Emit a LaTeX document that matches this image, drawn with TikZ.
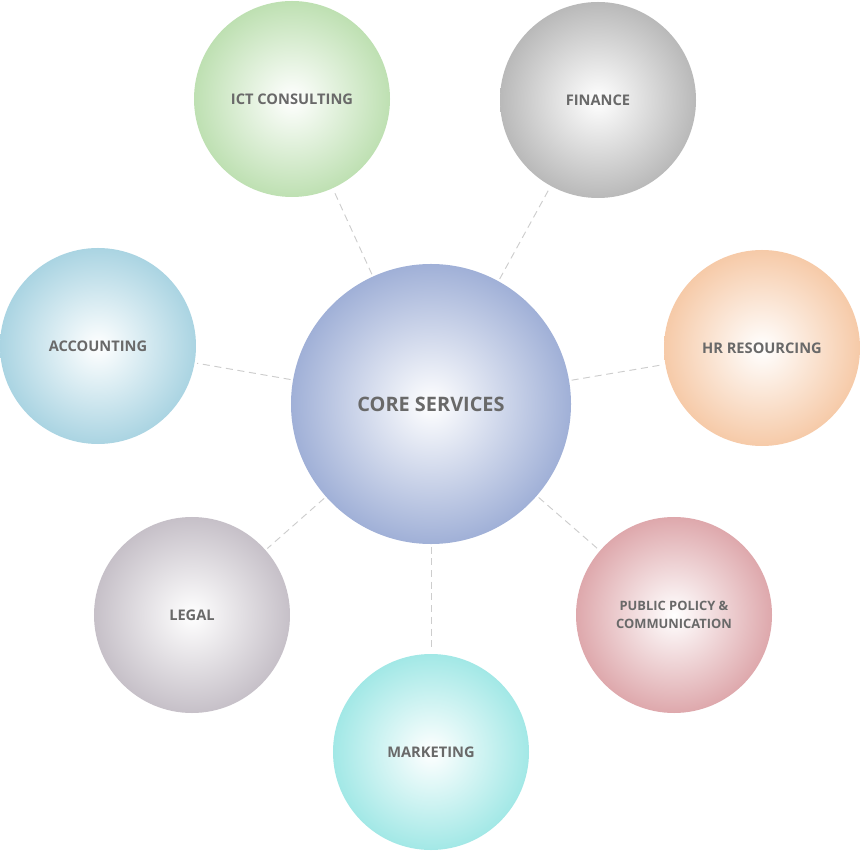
\documentclass[tikz,border=0pt]{standalone}
\usepackage{fontspec}
\setmainfont{Open Sans}
\usetikzlibrary{positioning}
\definecolor{coreblue}{RGB}{160,176,215}
\definecolor{ictgreen}{RGB}{190,224,178}
\definecolor{fingray}{RGB}{185,185,185}
\definecolor{accblue}{RGB}{170,212,226}
\definecolor{hrorange}{RGB}{246,202,168}
\definecolor{legalgray}{RGB}{198,192,200}
\definecolor{polrose}{RGB}{222,168,172}
\definecolor{mktcyan}{RGB}{162,232,230}
\definecolor{labelgray}{RGB}{105,105,105}
\definecolor{linkgray}{RGB}{205,205,205}
\tikzset{
	service/.style={circle, minimum size=5.88cm, inner sep=0pt, shade, inner color=white, outer color=#1, text=labelgray, font=\bfseries\fontsize{12.5}{15}\selectfont, align=center},
	core/.style={circle, minimum size=8.4cm, inner sep=0pt, shade, inner color=white, outer color=coreblue, text=labelgray, font=\bfseries\fontsize{17}{20}\selectfont},
	link/.style={draw=linkgray, thick, dashed, dash pattern=on 6pt off 4pt, shorten <=2pt, shorten >=2pt}
}
\begin{document}
\begin{tikzpicture}[x=0.03cm, y=-0.03cm]
	\useasboundingbox (0,0) rectangle (861,851);
	\node (Core) [core] at (431,404) {CORE SERVICES};
	\node (Ict) [service=ictgreen] at (292,99) {ICT CONSULTING};
	\node (Finance) [service=fingray] at (598,100) {FINANCE};
	\node (Accounting) [service=accblue] at (98,346) {ACCOUNTING};
	\node (Hr) [service=hrorange] at (762,348) {HR RESOURCING};
	\node (Legal) [service=legalgray] at (192,615) {LEGAL};
	\node (Policy) [service=polrose, font=\bfseries\fontsize{11}{15}\selectfont] at (674,615) {PUBLIC POLICY \&\\COMMUNICATION};
	\node (Marketing) [service=mktcyan] at (431,752) {MARKETING};

	\foreach \n in {Ict, Finance, Accounting, Hr, Legal, Policy, Marketing}
		\draw [link] (Core) -- (\n);
\end{tikzpicture}
\end{document}
